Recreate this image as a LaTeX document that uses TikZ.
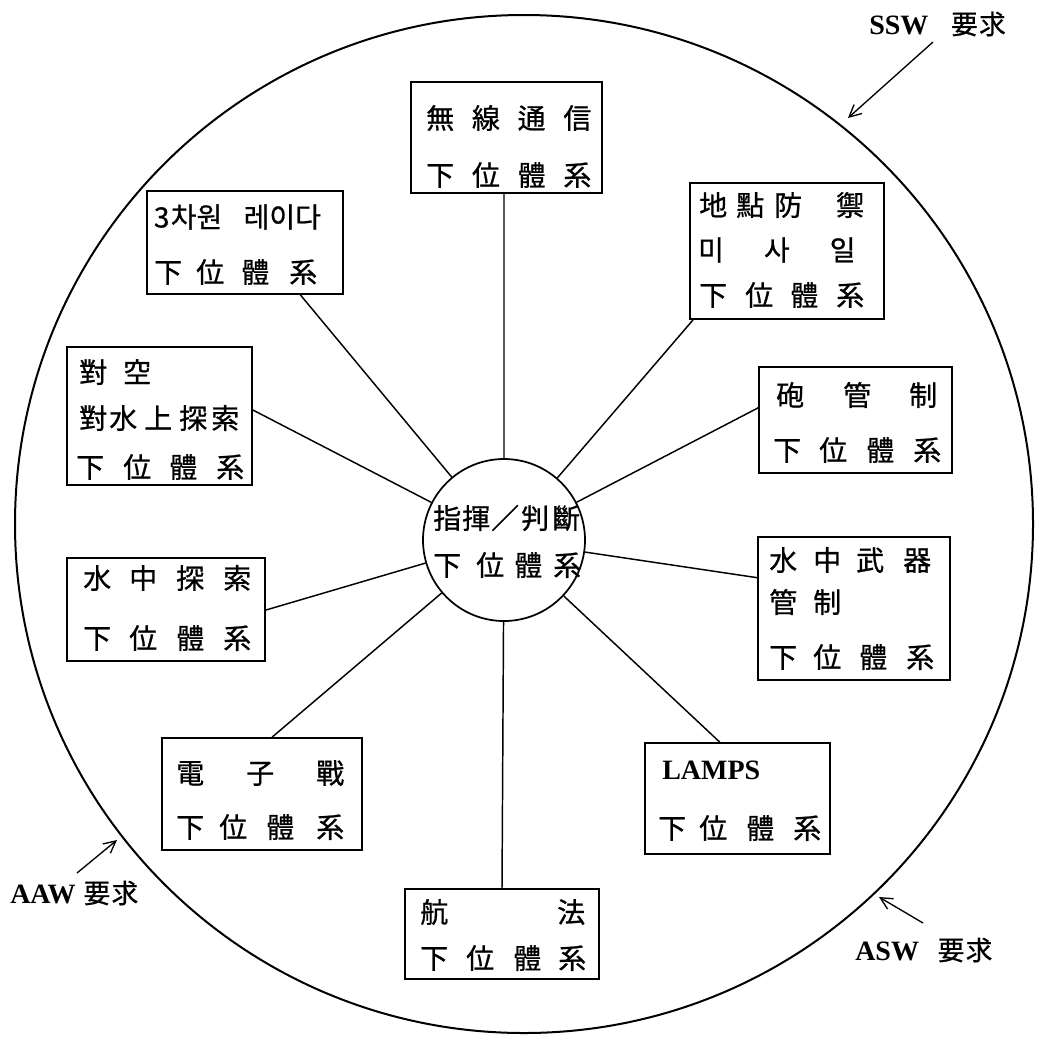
\documentclass[tikz,border=0pt]{standalone}
\usepackage{fontspec}
\setmainfont{Liberation Serif}
\newfontfamily\cjk[FakeBold=0.8]{Noto Sans CJK KR}
\usetikzlibrary{fit,calc,arrows.meta}
\newdimen\chw \chw=21pt
\newcommand\kp[1]{\hspace*{\dimexpr #1pt*3/4-\chw\relax}}
\begin{document}
\begin{tikzpicture}[x=0.75pt,y=-0.75pt,
  box/.style={draw,line width=1.3pt,inner sep=0pt},
  conn/.style={line width=1.1pt},
  txt/.style={anchor=west,inner sep=0pt,xshift=-1pt,font=\cjk\fontsize{21}{21}\selectfont},
  lat/.style={anchor=west,inner sep=0pt,font=\bfseries\fontsize{21}{21}\selectfont},
  req/.style={font=\mdseries\cjk\fontsize{20}{20}\selectfont},
  arr/.style={line width=1pt,-{Straight Barb[length=9pt,width=9pt]}}]
\useasboundingbox (0,0) rectangle (1041,1036);
% circles
\node[circle,draw,line width=1.5pt,minimum size=763.5pt,inner sep=0pt] (outer) at (524,524) {};
\node[circle,draw,line width=1.3pt,minimum size=121.5pt,inner sep=0pt] (c) at (504,540) {};
\node[txt] (c1) at (434.3,518) {指\kp{29}揮\kp{29}／\kp{30}判\kp{31}斷};
\node[txt] (c2) at (434.3,565) {下\kp{43}位\kp{38}體\kp{39}系};
% boxes
\node[box,fit={(411,82) (602,193)}] (b1) {};
\node[txt] (b1a) at (427.3,118) {無\kp{45.7}線\kp{45.7}通\kp{45.7}信};
\node[txt] (b1b) at (427.3,175) {下\kp{45.7}位\kp{45.7}體\kp{45.7}系};

\node[box,fit={(147,191) (343,294)}] (b2) {};
\node[txt] (b2a) at (155,217) {3\hspace*{1pt}차원\hspace*{16pt}레이다};
\node[txt] (b2b) at (155.3,272) {下\kp{42}位\kp{45}體\kp{48}系};

\node[box,fit={(690,183) (884,319)}] (b3) {};
\node[txt] (b3a) at (700.3,205) {地\kp{37}點\kp{38}防\kp{62}禦};
\node[txt] (b3b) at (699.3,250) {미\kp{68}사\kp{68}일};
\node[txt] (b3c) at (700.3,295) {下\kp{46}位\kp{45}體\kp{46}系};

\node[box,fit={(67,347) (252,485)}] (b4) {};
\node[txt] (b4a) at (80.3,372) {對\kp{44}空};
\node[txt] (b4b) at (80.3,418) {對\kp{30}水\kp{35}上\kp{35}探\kp{32}索};
\node[txt] (b4c) at (77.3,467) {下\kp{47}位\kp{46}體\kp{47}系};

\node[box,fit={(759,367) (952,473)}] (b5) {};
\node[txt] (b5a) at (777.3,395) {砲\kp{67}管\kp{66}制};
\node[txt] (b5b) at (774.3,450) {下\kp{46}位\kp{47}體\kp{47}系};

\node[box,fit={(67,558) (265,661)}] (b6) {};
\node[txt] (b6a) at (84.3,578) {水\kp{46}中\kp{47}探\kp{47}索};
\node[txt] (b6b) at (84.3,638) {下\kp{46}位\kp{47}體\kp{47}系};

\node[box,fit={(758,537) (950,680)}] (b7) {};
\node[txt] (b7a) at (770.3,560) {水\kp{44}中\kp{43}武\kp{47}器};
\node[txt] (b7b) at (770.3,602) {管\kp{44}制};
\node[txt] (b7c) at (770.3,657) {下\kp{44}位\kp{46}體\kp{47}系};

\node[box,fit={(162,738) (362,850)}] (b8) {};
\node[txt] (b8a) at (177.3,773) {電\kp{70}子\kp{70}戰};
\node[txt] (b8b) at (177.3,827) {下\kp{43}位\kp{47}體\kp{50}系};

\node[box,fit={(405,889) (599,979)}] (b9) {};
\node[txt] (b9a) at (421.3,912) {航\kp{137}法};
\node[txt] (b9b) at (421.3,958) {下\kp{46}位\kp{47}體\kp{45}系};

\node[box,fit={(645,743) (830,854)}] (b10) {};
\node[lat] (b10a) at (662,770) {LAMPS};
\node[txt] (b10b) at (659.3,828) {下\kp{41}位\kp{47}體\kp{47}系};

% connectors
\draw[conn] ($(b1.south west)!0.487!(b1.south east)$) -- (c);
\draw[conn] ($(b2.south west)!0.78!(b2.south east)$) -- (c);
\draw[conn] ($(b3.south west)!0.02!(b3.south east)$) -- (c);
\draw[conn] ($(b4.north east)!0.457!(b4.south east)$) -- (c);
\draw[conn] ($(b5.north west)!0.387!(b5.south west)$) -- (c);
\draw[conn] ($(b6.north east)!0.505!(b6.south east)$) -- (c);
\draw[conn] ($(b7.north west)!0.287!(b7.south west)$) -- (c);
\draw[conn] ($(b8.north west)!0.55!(b8.north east)$) -- (c);
\draw[conn] ($(b9.north west)!0.5!(b9.north east)$) -- (c);
\draw[conn] ($(b10.north west)!0.405!(b10.north east)$) -- (c);

% requirement labels
\node[lat] (ssw) at (869,24) {SSW\hspace*{17pt}{\mdseries\cjk\fontsize{20}{20}\selectfont 要\hspace*{1pt}求}};
\node[lat] (aaw) at (10,893) {AAW\hspace*{6pt}{\mdseries\cjk\fontsize{20}{20}\selectfont 要\hspace*{1pt}求}};
\node[lat] (asw) at (855,950) {ASW\hspace*{14pt}{\mdseries\cjk\fontsize{20}{20}\selectfont 要\hspace*{1pt}求}};
\coordinate (ssw-a) at (933,42);
\coordinate (ssw-b) at (848,118);
\coordinate (aaw-a) at (77,873);
\coordinate (aaw-b) at (117,840);
\coordinate (asw-a) at (923,923);
\coordinate (asw-b) at (879,897);
\draw[arr] (ssw-a) -- (ssw-b);
\draw[arr] (aaw-a) -- (aaw-b);
\draw[arr] (asw-a) -- (asw-b);
\end{tikzpicture}
\end{document}
